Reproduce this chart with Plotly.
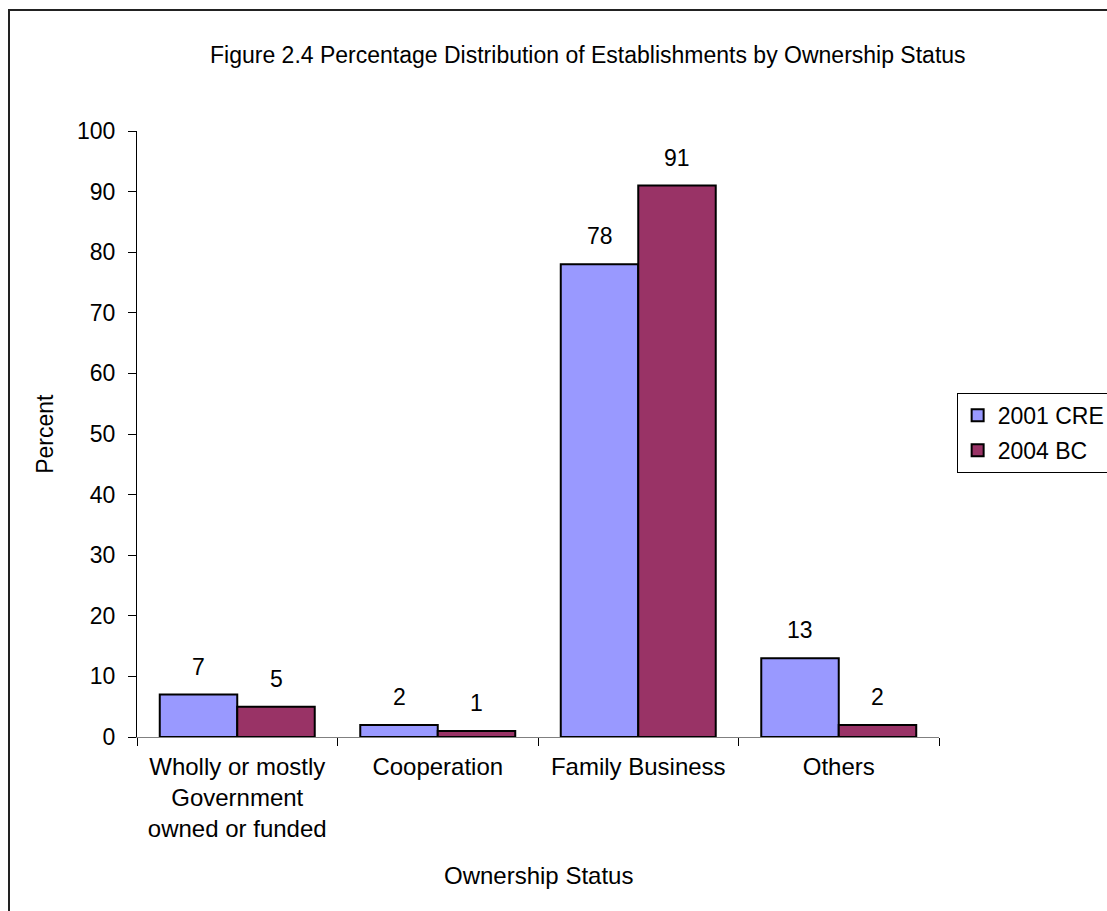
import plotly.graph_objects as go

# Ownership categories and percentage shares for the two survey rounds
categories = [
    "Wholly or mostly<br>Government<br>owned or funded",
    "Cooperation",
    "Family Business",
    "Others",
]
series_names = ["2001 CRE", "2004 BC"]
values_2001 = [7, 2, 78, 13]
values_2004 = [5, 1, 91, 2]
y_ticks = [0, 10, 20, 30, 40, 50, 60, 70, 80, 90, 100]

colors = ["#9999FF", "#993366"]
font_family = "Liberation Sans, Arial, sans-serif"
bargap = 0.227

fig = go.Figure()
for name, vals, col in zip(series_names, [values_2001, values_2004], colors):
    fig.add_trace(go.Bar(
        name=name,
        x=categories,
        y=vals,
        marker=dict(color=col, line=dict(color="#000000", width=2)),
        legendgroup=name,
    ))

# Value labels above each bar (bar centre = category index +/- half a bar width)
half = (1 - bargap) / 4
annotations = []
for k, vals in enumerate([values_2001, values_2004]):
    off = -half if k == 0 else half
    for i, v in enumerate(vals):
        annotations.append(dict(
            x=i + off, y=v, xref="x", yref="y", text=str(v),
            showarrow=False, yanchor="middle", yshift=28,
            font=dict(size=23, color="#000000", family=font_family),
        ))

# Axis titles
annotations.append(dict(
    x=-0.115, y=0.5, xref="paper", yref="paper", text="Percent",
    textangle=-90, showarrow=False, xanchor="center", yanchor="middle",
    font=dict(size=23, color="#000000", family=font_family),
))
annotations.append(dict(
    x=0.5, y=-0.229, xref="paper", yref="paper", text="Ownership Status",
    showarrow=False, xanchor="center", yanchor="middle",
    font=dict(size=24, color="#000000", family=font_family),
))

fig.update_layout(
    width=1107,
    height=911,
    margin=dict(l=137, r=168, t=131, b=174, autoexpand=False),
    paper_bgcolor="#FFFFFF",
    plot_bgcolor="#FFFFFF",
    barmode="group",
    bargap=bargap,
    bargroupgap=0,
    font=dict(family=font_family, size=23, color="#000000"),
    title=dict(
        text="Figure 2.4 Percentage Distribution of Establishments by Ownership Status",
        x=0.531, xref="container", xanchor="center",
        y=1 - 55 / 911, yref="container", yanchor="middle",
        font=dict(size=23, color="#000000", family=font_family),
    ),
    showlegend=True,
    legend=dict(
        x=1.022, xanchor="left", y=0.568, yanchor="top",
        bordercolor="#000000", borderwidth=1,
        font=dict(size=23, color="#000000", family=font_family),
        tracegroupgap=2,
        bgcolor="#FFFFFF",
    ),
    annotations=annotations,
    shapes=[dict(
        type="rect", xref="paper", yref="paper",
        x0=-0.1596, x1=1.4, y0=-0.5, y1=1.1997,
        line=dict(color="#222222", width=2), fillcolor="rgba(0,0,0,0)",
        layer="below",
    )],
)

fig.update_xaxes(
    showgrid=False,
    showline=True, linecolor="#808080", linewidth=1,
    ticks="outside", ticklen=8, tickcolor="#000000",
    tickson="boundaries",
    ticklabelstandoff=8,
    tickfont=dict(size=24, color="#000000", family=font_family),
)
fig.update_yaxes(
    range=[0, 100],
    tickvals=y_ticks,
    showgrid=False, zeroline=False,
    showline=True, linecolor="#000000", linewidth=1,
    ticks="outside", ticklen=8, tickcolor="#000000",
    ticklabelstandoff=8,
    tickfont=dict(size=23, color="#000000", family=font_family),
)

fig.write_html("out.html")
